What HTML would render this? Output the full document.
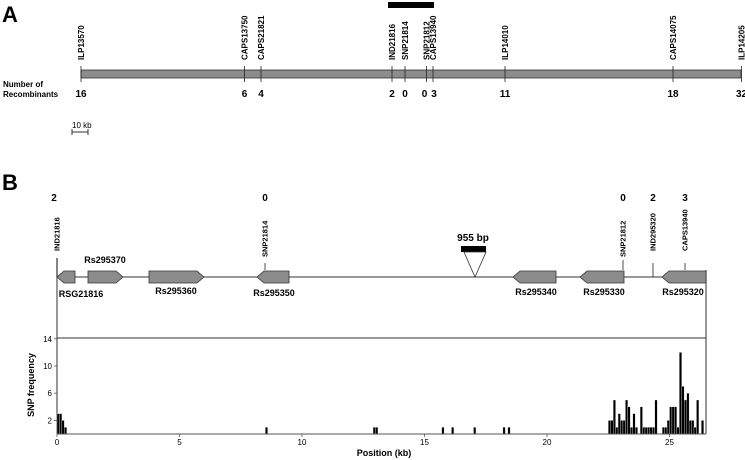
<!DOCTYPE html>
<html><head><meta charset="utf-8">
<style>
html,body{margin:0;padding:0;background:#fff;}
svg{display:block;font-family:"Liberation Sans",Arial,sans-serif;font-weight:bold;}
</style></head>
<body>
<svg id="fig" width="745" height="460" viewBox="0 0 745 460">
  <!-- Panel A -->
  <text x="2" y="22" font-size="22">A</text>
  <rect x="388" y="2" width="46" height="6" fill="#000"/>
  <rect x="81" y="70" width="660" height="8" fill="#8c8c8c" stroke="#333" stroke-width="0.8"/>
  <g id="markersA"></g>
  <text x="3" y="87" font-size="8">Number of</text>
  <text x="3" y="97" font-size="8">Recombinants</text>
  <text x="72" y="128" font-size="8" font-weight="normal">10 kb</text>
  <g stroke="#333" stroke-width="1">
    <line x1="72" y1="132" x2="88" y2="132"/><line x1="72" y1="129" x2="72" y2="135"/><line x1="88" y1="129" x2="88" y2="135"/>
  </g>

  <!-- Panel B -->
  <text x="2" y="190" font-size="22">B</text>
  <line x1="57" y1="258" x2="57" y2="434" stroke="#555" stroke-width="1.2"/>
  <line x1="706" y1="270" x2="706" y2="434" stroke="#555" stroke-width="1.2"/>
  <line x1="57" y1="277" x2="706" y2="277" stroke="#333" stroke-width="1"/>
  <line x1="57" y1="338" x2="706" y2="338" stroke="#333" stroke-width="1"/>
  <g id="markersB"></g>
  <g id="genes"></g>
  <g>
    <rect x="461" y="246" width="25" height="6" fill="#000"/>
    <polygon points="464,252 486,252 475,277" fill="#fff" stroke="#333" stroke-width="0.8"/>
    <text x="473" y="241" font-size="10" text-anchor="middle">955 bp</text>
  </g>
  <g id="hist"></g>
  <text transform="translate(34,385) rotate(-90)" font-size="9" text-anchor="middle">SNP frequency</text>
  <text x="384" y="456" font-size="9" text-anchor="middle">Position (kb)</text>
</svg>
<script>
const NS="http://www.w3.org/2000/svg";
function mk(tag,attrs,parent){const e=document.createElementNS(NS,tag);for(const k in attrs)e.setAttribute(k,attrs[k]);parent.appendChild(e);return e;}

// Panel A data
const markerNamesA=["ILP13570","CAPS13750","CAPS21821","IND21816","SNP21814","SNP21812","CAPS13940","ILP14010","CAPS14075","ILP14205"];
const markerXA=[81,244.5,261,392,405,426.5,433,505,673,741.5];
const recombA=["16","6","4","2","0","0","3","11","18","32"];
const gA=document.getElementById('markersA');
markerNamesA.forEach((n,i)=>{
  const x=markerXA[i];
  const l=mk('line',{x1:x,y1:66,x2:x,y2:82,stroke:'#222','stroke-width':0.8},gA);
  
  
  const t=mk('text',{transform:`translate(${x+3},60) rotate(-90)`,'font-size':8},gA);
  t.textContent=n;
  
  
  const r=mk('text',{x:(i===5?x-2:(i===6?x+1:x)),y:97,'font-size':10,'text-anchor':'middle'},gA);
  r.textContent=recombA[i];
  
  
});

// Panel B markers
const markerNamesB=["IND21816","SNP21814","SNP21812","IND295320","CAPS13940"];
const markerXB=[57,265,623,653,685];
const recombB=["2","0","0","2","3"];
const tickTopB=[258,263,260,263,263];
const tickBotB=[277,270,270,277,270];
const gB=document.getElementById('markersB');
markerNamesB.forEach((n,i)=>{
  const x=markerXB[i];
  const l=mk('line',{x1:x,y1:tickTopB[i],x2:x,y2:tickBotB[i],stroke:'#222','stroke-width':0.8},gB);
  
  
  const t=mk('text',{transform:`translate(${x+2.5},${i===0||i>=3?251:257}) rotate(-90)`,'font-size':7.5},gB);
  t.textContent=n;
  
  
  const r=mk('text',{x:x+(i===0?-3:0),y:201,'font-size':10,'text-anchor':'middle'},gB);
  r.textContent=recombB[i];
  
  
});

// Genes
const geneNames=["RSG21816","Rs295370","Rs295360","Rs295350","Rs295340","Rs295330","Rs295320"];
const geneX1=[57,88,149,257,513,580,662];
const geneX2=[75,123,204,289,556,624,706];
const geneDir=[-1,1,1,-1,-1,-1,-1];
const geneLabelX=[81,105,176,274,536,604,683];
const geneLabelY=[297,263,294,296,295,295,295];
const gG=document.getElementById('genes');
geneNames.forEach((n,i)=>{
  const a=geneX1[i],b=geneX2[i],y0=271,y1=283,ym=277,h=7;
  let pts;
  if(geneDir[i]>0) pts=`${a},${y0} ${b-h},${y0} ${b},${ym} ${b-h},${y1} ${a},${y1}`;
  else pts=`${a+h},${y0} ${b},${y0} ${b},${y1} ${a+h},${y1} ${a},${ym}`;
  const p=mk('polygon',{points:pts,fill:'#8c8c8c',stroke:'#333','stroke-width':0.8},gG);
  
  
  const t=mk('text',{x:geneLabelX[i],y:geneLabelY[i],'font-size':9,'text-anchor':'middle'},gG);
  t.textContent=n;
  
  
});

// Histogram data
const snpPos=[0.0,0.1,0.2,0.3,8.5,12.9,13.0,15.7,16.1,17.0,18.2,18.4,
 22.5,22.6,22.7,22.8,22.9,23.0,23.1,23.2,23.3,23.4,23.5,23.6,23.8,23.9,24.0,24.1,24.2,24.3,24.4,
 24.7,24.8,24.9,25.0,25.1,25.2,25.3,25.4,25.5,25.6,25.7,25.8,25.9,26.0,26.1,26.3];
const snpCount=[3,3,2,1,1,1,1,1,1,1,1,1,
 2,2,5,1,3,2,2,5,4,1,3,1,4,1,1,1,1,1,5,
 1,1,2,4,4,4,1,12,7,5,6,2,2,1,5,2];
const xTicks=[0,5,10,15,20,25];
const yTicks=[2,6,10,14];
const X0=57,KB=24.5,BASE=434,UNIT=6.8,BIN=0.1;
const xs=v=>X0+v*KB, ys=v=>BASE-v*UNIT;
const gH=document.getElementById('hist');
snpPos.forEach((p,i)=>{
  const r=mk('rect',{x:xs(p),y:ys(snpCount[i]),width:BIN*KB,height:snpCount[i]*UNIT,fill:'#000',stroke:'#fff','stroke-width':0.3},gH);
  
  
});
const ax=mk('line',{x1:X0,y1:BASE,x2:706,y2:BASE,stroke:'#555','stroke-width':1},gH);


xTicks.forEach(v=>{
  const l=mk('line',{x1:xs(v),y1:BASE,x2:xs(v),y2:BASE+3,stroke:'#555','stroke-width':0.8},gH);
  
  
  const t=mk('text',{x:xs(v),y:BASE+11,'font-size':8,'font-weight':'normal','text-anchor':'middle'},gH);
  t.textContent=v;
  
  
});
yTicks.forEach(v=>{
  const l=mk('line',{x1:X0-3,y1:ys(v),x2:X0,y2:ys(v),stroke:'#555','stroke-width':0.8},gH);
  
  
  const t=mk('text',{x:X0-5,y:ys(v)+3,'font-size':8,'font-weight':'normal','text-anchor':'end'},gH);
  t.textContent=v;
  
  
});
</script>
</body></html>
